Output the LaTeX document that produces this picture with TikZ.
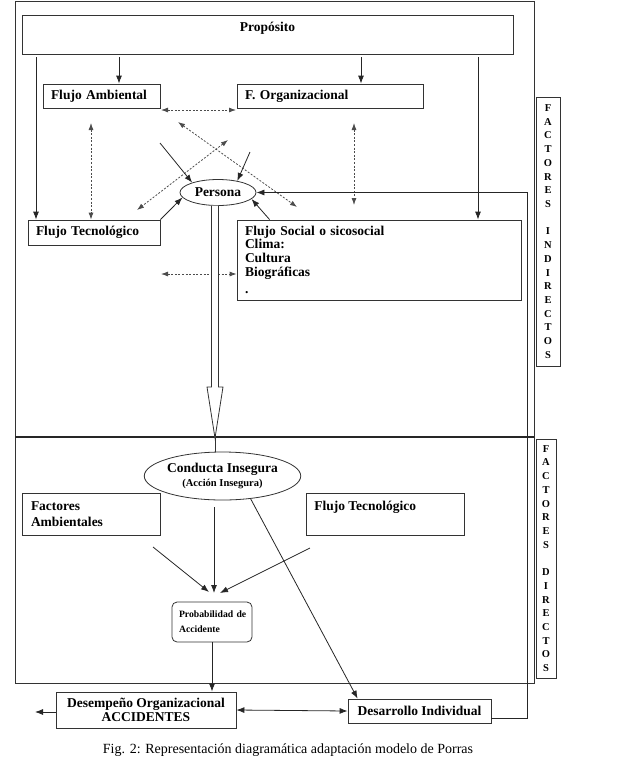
\documentclass[tikz,border=0pt]{standalone}
\usepackage{fontspec}
\setmainfont{Liberation Serif}
\usetikzlibrary{shapes.geometric,arrows.meta,calc}
\begin{document}
\begin{tikzpicture}[x=1pt,y=-1pt,
  ln/.style={draw=black!80,line width=0.8pt},
  mainfont/.style={font=\bfseries\fontsize{13.5}{13.7}\selectfont},
  box/.style={ln,inner ysep=0pt,inner xsep=8pt,mainfont,align=left},
  arr/.style={draw=black!85,line width=0.8pt,-{Latex[length=8pt,width=6pt]}},
  arrtwo/.style={draw=black!85,line width=0.8pt,{Latex[length=8pt,width=6pt]}-{Latex[length=8pt,width=6pt]}},
  darr/.style={draw=black!70,line width=0.8pt,dash pattern=on 2pt off 1.6pt,{Latex[length=7pt,width=5pt]}-{Latex[length=7pt,width=5pt]}},
  vbox/.style={ln,inner sep=0pt,align=center,font=\bfseries\fontsize{10.5}{13.72}\selectfont}
]
\useasboundingbox (0,0) rectangle (643,761);

% frames
\draw[ln] (15,1) rectangle (534,437);
\draw[ln] (15,437) rectangle (534,683);
\draw[draw=black!85,line width=1.8pt] (15,437) -- (534,437);

% top section boxes
\node[box,minimum width=491pt,minimum height=39pt,
      label={[mainfont,anchor=north,inner sep=0pt,yshift=-7pt]north:Propósito}] (prop) at (267.5,34.5) {};
\node[box,minimum width=117pt,minimum height=24pt,text width=101pt] (famb) at (101.5,96) {Flujo Ambiental};
\node[box,minimum width=186pt,minimum height=24pt,text width=170pt] (forg) at (330,96) {F. Organizacional};
\node[box,minimum width=132pt,minimum height=25pt,text width=116pt] (ftecA) at (94,232.5) {Flujo Tecnológico};
\node[box,minimum width=284pt,minimum height=80pt,text width=268pt] (fsoc) at (379,260)
  {Flujo Social o sicosocial\\Clima:\\Cultura\\Biográficas\\[4pt].};
\node[ln,ellipse,minimum width=76pt,minimum height=26pt,inner sep=0pt,mainfont] (persona) at (218,192.5) {Persona};

% vertical labels
\node[vbox,minimum width=24pt,minimum height=269pt] (vind) at (548,231.5)
  {F\\A\\C\\T\\O\\R\\E\\S\\[13.72pt]I\\N\\D\\I\\R\\E\\C\\T\\O\\S};
\node[vbox,minimum width=20pt,minimum height=239pt] (vdir) at (546,558.5)
  {F\\A\\C\\T\\O\\R\\E\\S\\[13.72pt]D\\I\\R\\E\\C\\T\\O\\S};

% lines from Proposito
\coordinate (p1) at (36,57);
\coordinate (p2) at (119,57);
\coordinate (p3) at (361,57);
\coordinate (p4) at (478,57);
\draw[arr] (p1) -- (p1 |- ftecA.north);
\draw[arr] (p2) -- (p2 |- famb.north);
\draw[arr] (p3) -- (p3 |- forg.north);
\draw[arr] (p4) -- (p4 |- fsoc.north);

% dotted double arrows
\coordinate (d1a) at (178,122); \coordinate (d1b) at (297,207);
\coordinate (d2a) at (228,140); \coordinate (d2b) at (137,210);
\coordinate (d3a) at (91,123);
\coordinate (d4a) at (354,123); \coordinate (d4b) at (354,205);
\coordinate (d5a) at (161,274);
\coordinate (d6a) at (161,110); \coordinate (d6b) at (236,110);
\draw[darr] (d6a) -- (d6b);
\draw[darr] (d1a) -- (d1b);
\draw[darr] (d2a) -- (d2b);
\draw[darr] (d3a) -- (d3a |- ftecA.north);
\draw[darr] (d4a) -- (d4b);
\draw[darr] (d5a) -- (d5a -| fsoc.west);

% arrows into Persona
\coordinate (q1) at (160,143);
\coordinate (q2) at (250,152);
\draw[arr] (q1) -- (persona.159);
\draw[arr] (q2) -- (persona.31);
\draw[arr] (ftecA.north east) -- (persona.188);
\draw[arr] ([xshift=33pt]fsoc.north west) -- (persona.-11);

% lower section
\node[ln,ellipse,minimum width=137pt,minimum height=48pt,inner sep=0pt,align=center,
      font=\bfseries\fontsize{13.5}{14}\selectfont] (conducta) at (222.5,476)
  {Conducta Insegura\\{\fontsize{10.5}{12}\selectfont (Acción Insegura)}};
\node[box,minimum width=138pt,minimum height=42pt,text width=120pt,inner xsep=9pt,
      font=\bfseries\fontsize{13.5}{16}\selectfont] (factamb) at (91,514) {Factores\\Ambientales};
\node[box,minimum width=158pt,minimum height=42pt,
      label={[mainfont,anchor=north west,inner sep=0pt,xshift=8.5pt,yshift=-8pt]north west:Flujo Tecnológico}] (ftecB) at (385,514) {};
\node[box,rounded corners=5pt,minimum width=80pt,minimum height=40pt,text width=70pt,inner xsep=5pt,
      font=\bfseries\fontsize{9.7}{15}\selectfont] (prob) at (212,622) {\hspace*{2pt}Probabilidad de\\\hspace*{2pt}Accidente};
\node[box,minimum width=180pt,minimum height=36pt,align=center,inner xsep=2pt,
      font=\bfseries\fontsize{13.5}{14}\selectfont] (desemp) at (146,710) {Desempeño Organizacional\\ACCIDENTES};
\node[box,minimum width=143pt,minimum height=24pt,align=center,inner xsep=2pt] (desind) at (419.5,711) {Desarrollo Individual};

% hollow arrow Persona -> Conducta
\draw[ln,fill=white] (211.5,205.5) -- (211.5,387) -- (207,387) -- (215,438) -- (223,387) -- (218.5,387) -- (218.5,205.5);
\coordinate (hz) at (215,438);
\draw[ln] (hz) -- (conducta.north -| hz);

% converging arrows
\coordinate (r0) at (214,507); \coordinate (r0e) at (214,593);
\coordinate (r1) at (153,547); \coordinate (r1e) at (209,592);
\coordinate (r2) at (310,548); \coordinate (r2e) at (220,593);
\draw[arr] (r0) -- (r0e);
\draw[arr] (r1) -- (r1e);
\draw[arr] (r2) -- (r2e);

\draw[arr] (prob.south) -- (prob.south |- desemp.north);
\draw[arr] (conducta.-39) -- ([xshift=10pt]desind.north west);
\draw[arrtwo] (desemp.east) -- (desind.west);
\coordinate (l0) at (35,712);
\draw[arr] (desemp.west |- l0) -- (l0);

% feedback line
\coordinate (fbA) at (527,718);
\coordinate (fbB) at (527,192.5);
\draw[arr] (desind.east |- fbA) -- (fbA) -- (fbB) -- (persona.east);

% caption
\node[font=\fontsize{14}{16}\selectfont] (cap) at (288,750) {Fig. 2: Representación diagramática adaptación modelo de Porras};
\end{tikzpicture}
\end{document}
